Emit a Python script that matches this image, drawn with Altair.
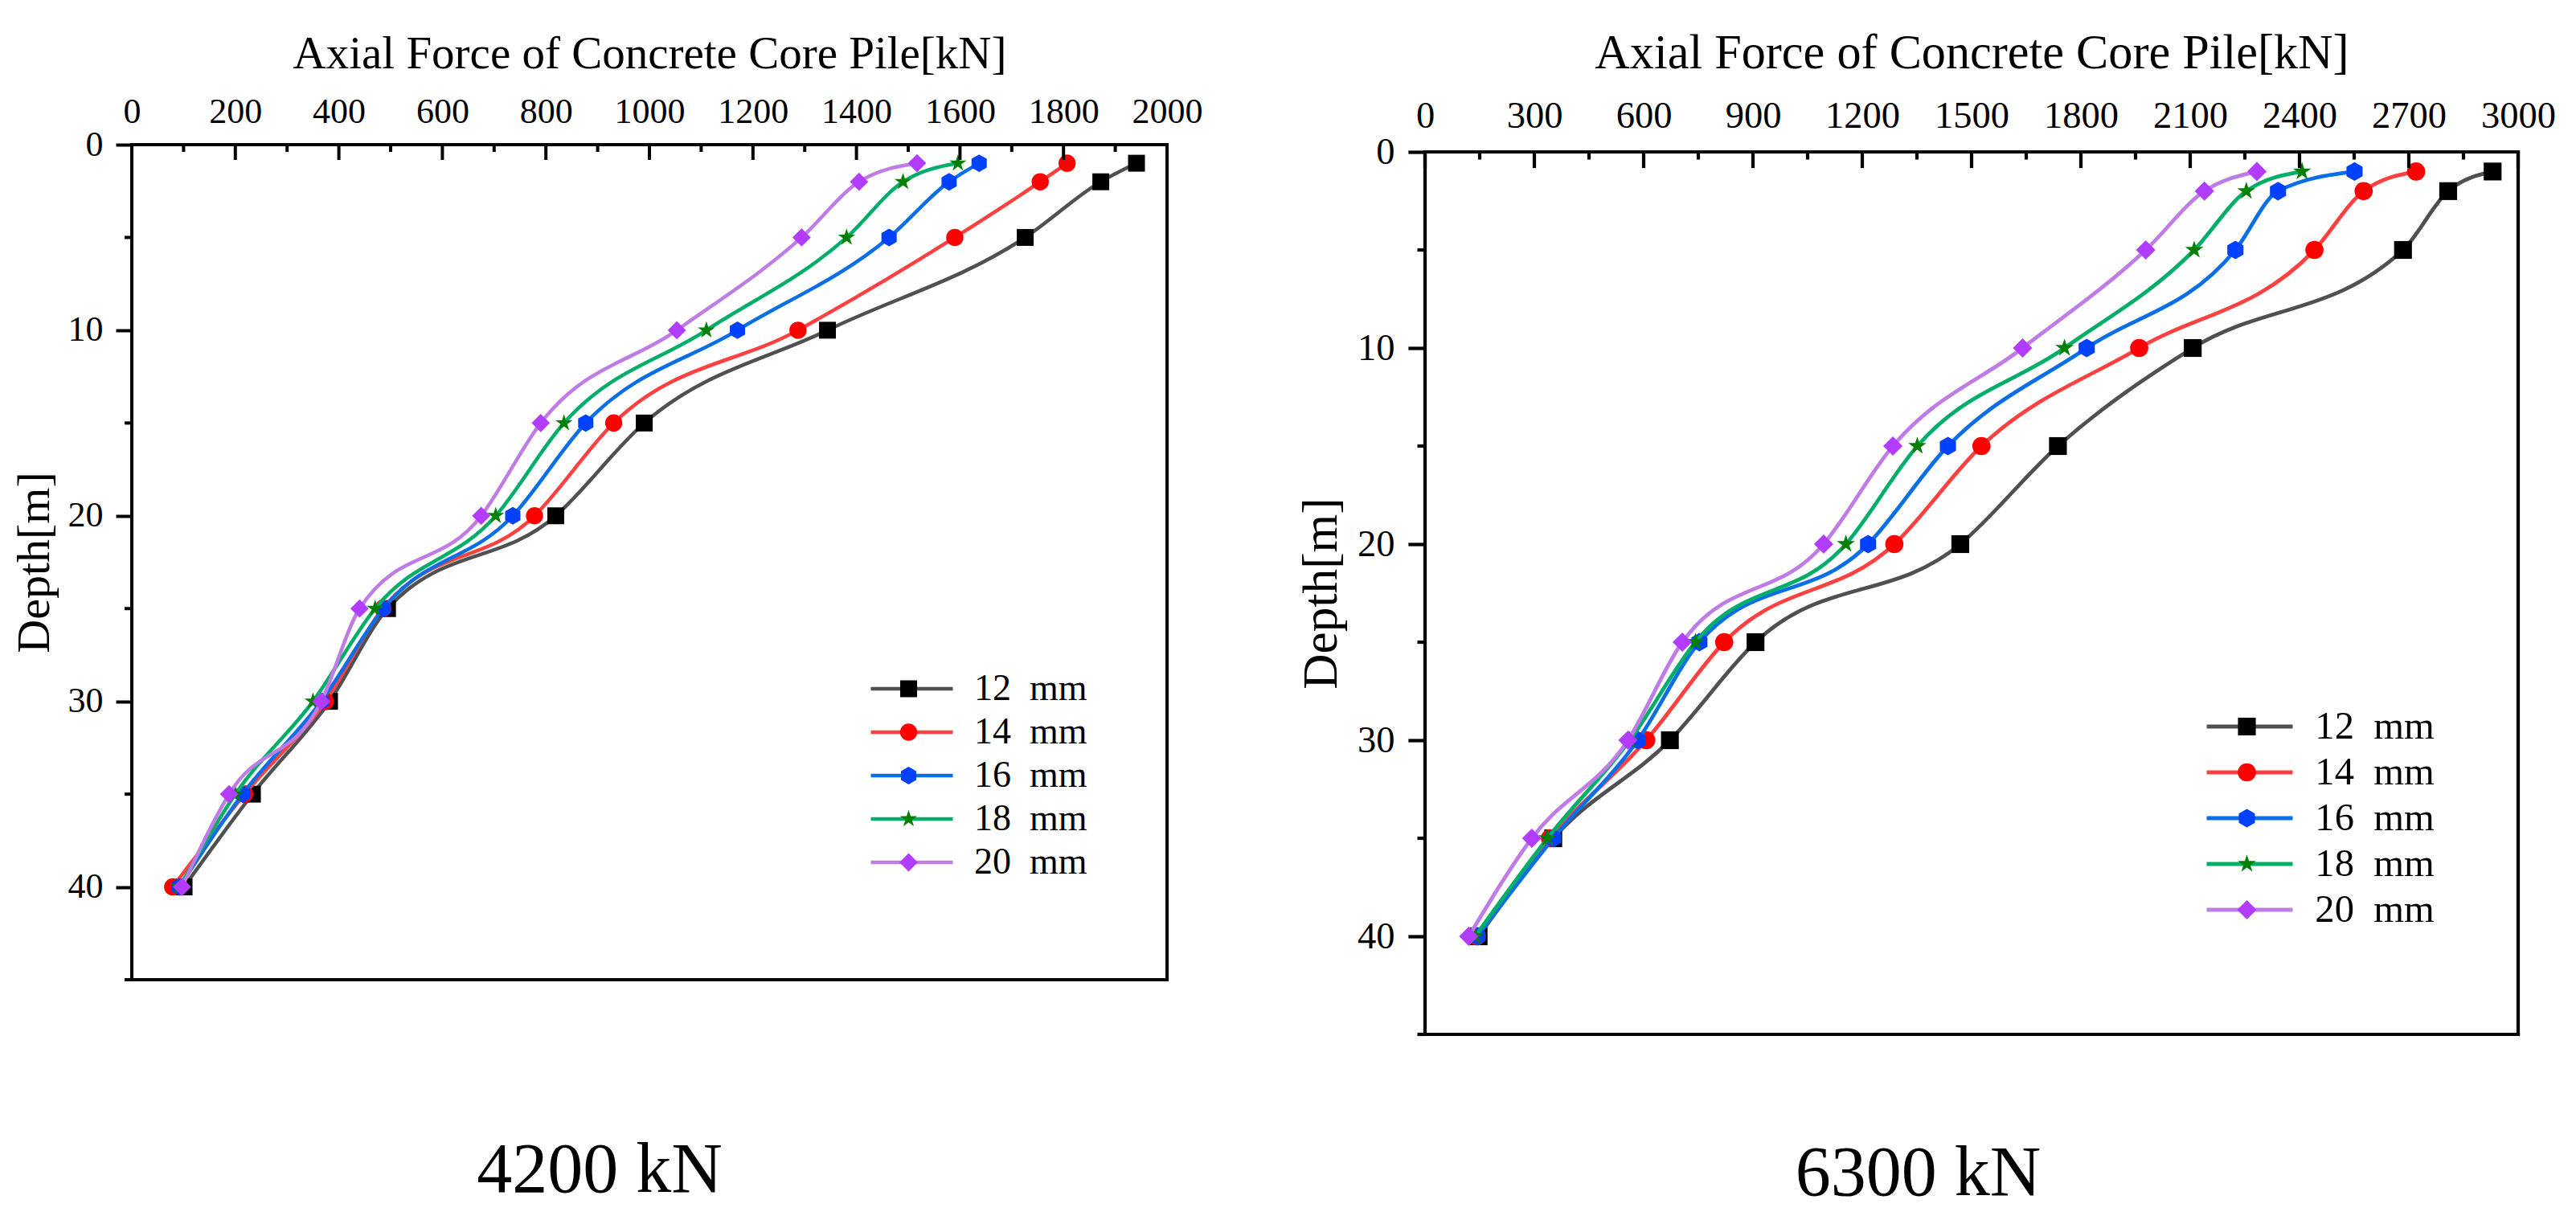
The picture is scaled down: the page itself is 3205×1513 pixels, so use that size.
import altair as alt
import pandas as pd

FONT = "Liberation Serif"

depths = [1, 2, 5, 10, 15, 20, 25, 30, 35, 40]
series_names = ["12\u00a0\u00a0mm", "14\u00a0\u00a0mm", "16\u00a0\u00a0mm", "18\u00a0\u00a0mm", "20\u00a0\u00a0mm"]
marker_keys = ["12", "14", "16", "18", "20"]

# 4200 kN panel
f4200_12 = [1941, 1872, 1726, 1344, 990, 819, 494, 382, 233, 101]
f4200_14 = [1807, 1755, 1590, 1287, 931, 778, 485, 374, 218, 79]
f4200_16 = [1637, 1579, 1463, 1170, 877, 736, 486, 366, 214, 92]
f4200_18 = [1596, 1490, 1381, 1110, 835, 703, 470, 350, 200, 92]
f4200_20 = [1517, 1405, 1294, 1053, 790, 675, 440, 366, 188, 97]

# 6300 kN panel
f6300_12 = [2930, 2808, 2684, 2107, 1737, 1469, 907, 672, 352, 147]
f6300_14 = [2720, 2576, 2441, 1960, 1527, 1288, 821, 607, 343, 142]
f6300_16 = [2551, 2341, 2224, 1816, 1435, 1216, 753, 584, 352, 144]
f6300_18 = [2407, 2254, 2111, 1755, 1351, 1155, 742, 562, 336, 138]
f6300_20 = [2283, 2139, 1978, 1640, 1284, 1094, 706, 557, 293, 120]

xdom_4200 = [0, 2000]
xdom_6300 = [0, 3000]
ydom = [0, 45]
xticks_4200 = [0, 200, 400, 600, 800, 1000, 1200, 1400, 1600, 1800, 2000]
xminor_4200 = [100, 300, 500, 700, 900, 1100, 1300, 1500, 1700, 1900]
xticks_6300 = [0, 300, 600, 900, 1200, 1500, 1800, 2100, 2400, 2700, 3000]
xminor_6300 = [150, 450, 750, 1050, 1350, 1650, 1950, 2250, 2550, 2850]
yticks = [0, 10, 20, 30, 40]
yminor = [5, 15, 25, 35, 45]

line_colors = ["#505050", "#FF4040", "#0A6FE6", "#00AE6A", "#C07CE6"]
marker_colors = ["#000000", "#FF0000", "#0040FF", "#008000", "#B23CFF"]
HEX = "M0,-1L0.866,-0.5L0.866,0.5L0,1L-0.866,0.5L-0.866,-0.5Z"
STAR = ("M0,-1L0.2245,-0.309L0.951,-0.309L0.363,0.118L0.588,0.809L0,0.382"
        "L-0.588,0.809L-0.363,0.118L-0.951,-0.309L-0.2245,-0.309Z")
DIAM = "M0,-1L1,0L0,1L-1,0Z"
shapes = ["square", "circle", HEX, STAR, DIAM]
base_sizes = [440, 520, 700, 760, 830]


def panel(forces, xdom, xticks, xminor, width, plot_h, top_off, k, title, title_offset,
          title_dx, x_title_pad, lx, ly, px, row_h, line_len):
    rows = []
    for name, key, vals in zip(series_names, marker_keys, forces):
        for d, f in zip(depths, vals):
            rows.append({"depth": d, "force": f, "series": name, "mk": key})
    df = pd.DataFrame(rows)

    xs = alt.Scale(domain=xdom, nice=False, zero=False)
    ys = alt.Scale(domain=ydom, range=[top_off, top_off + plot_h], nice=False, zero=False)

    x_axis = alt.Axis(orient="top", values=xticks, title="Axial Force of Concrete Core Pile[kN]",
                      domain=False, ticks=False, grid=False, format="d", offset=-top_off,
                      labelFont=FONT, labelFontSize=44 * k, labelColor="black",
                      labelPadding=19 * k, labelFlush=False, labelOverlap=False,
                      titleFont=FONT, titleFontSize=57 * k, titleFontWeight="normal",
                      titleColor="black", titlePadding=x_title_pad)
    y_axis = alt.Axis(orient="left", values=yticks, title="Depth[m]",
                      domain=False, ticks=True, tickSize=20 * k, tickWidth=4 * k,
                      tickColor="black", grid=False, format="d",
                      labelFont=FONT, labelFontSize=44 * k, labelColor="black",
                      labelPadding=16 * k, labelFlush=False, labelOverlap=False,
                      titleFont=FONT, titleFontSize=58 * k, titleFontWeight="normal",
                      titleColor="black", titlePadding=12 * k)

    stroke_legend = alt.Legend(title=None, orient="none", legendX=lx, legendY=ly,
                               symbolType="stroke", symbolSize=line_len ** 2,
                               symbolStrokeWidth=4.5 * k, clipHeight=row_h, rowPadding=0,
                               padding=0, labelFont=FONT, labelFontSize=46 * k,
                               labelColor="black", labelOffset=24 * k, labelLimit=500)
    pt_legend = alt.Legend(title=None, orient="none", legendX=px, legendY=ly,
                           clipHeight=row_h, rowPadding=0, padding=0,
                           labelExpr="''", labelFontSize=1, symbolStrokeWidth=0,
                           symbolOpacity=1)

    sizes = [s * k * k for s in base_sizes]
    base = alt.Chart(df)
    layers = []
    for key in marker_keys:
        sub = base.transform_filter(alt.datum.mk == key)
        line = sub.mark_line(interpolate="monotone", strokeWidth=4.5 * k).encode(
            x=alt.X("force:Q", scale=xs, axis=x_axis),
            y=alt.Y("depth:Q", scale=ys, axis=y_axis),
            stroke=alt.Stroke("series:N", scale=alt.Scale(domain=series_names, range=line_colors),
                              legend=stroke_legend),
            order=alt.Order("depth:Q"),
        )
        pts = sub.mark_point(filled=True, opacity=1, strokeWidth=0).encode(
            x=alt.X("force:Q", scale=xs, axis=x_axis),
            y=alt.Y("depth:Q", scale=ys, axis=y_axis),
            fill=alt.Fill("mk:N", scale=alt.Scale(domain=marker_keys, range=marker_colors),
                          legend=pt_legend),
            shape=alt.Shape("mk:N", scale=alt.Scale(domain=marker_keys, range=shapes),
                            legend=pt_legend),
            size=alt.Size("mk:N", scale=alt.Scale(domain=marker_keys, range=sizes),
                          legend=pt_legend),
        )
        layers += [line, pts]

    sw = 4 * k
    xt_major = alt.Chart(pd.DataFrame({"force": xticks})).mark_rule(
        color="black", strokeWidth=sw).encode(
        x=alt.X("force:Q", scale=xs, axis=x_axis), y=alt.value(top_off),
        y2=alt.value(top_off + 19 * k))
    xt_minor = alt.Chart(pd.DataFrame({"force": xminor})).mark_rule(
        color="black", strokeWidth=sw).encode(
        x=alt.X("force:Q", scale=xs, axis=x_axis), y=alt.value(top_off),
        y2=alt.value(top_off + 9 * k))
    yt_minor = alt.Chart(pd.DataFrame({"depth": yminor})).mark_rule(
        color="black", strokeWidth=sw).encode(
        y=alt.Y("depth:Q", scale=ys, axis=y_axis), x=alt.value(-9 * k), x2=alt.value(0))

    fr = pd.DataFrame({"x0": [xdom[0]], "x1": [xdom[1]], "y0": [ydom[0]], "y1": [ydom[1]]})
    frame = alt.Chart(fr)
    fkw = dict(color="black", strokeWidth=sw, strokeCap="square")
    f_top = frame.mark_rule(**fkw).encode(
        x=alt.X("x0:Q", scale=xs, axis=x_axis), x2="x1:Q",
        y=alt.Y("y0:Q", scale=ys, axis=y_axis))
    f_bot = frame.mark_rule(**fkw).encode(
        x=alt.X("x0:Q", scale=xs, axis=x_axis), x2="x1:Q",
        y=alt.Y("y1:Q", scale=ys, axis=y_axis))
    f_left = frame.mark_rule(**fkw).encode(
        x=alt.X("x0:Q", scale=xs, axis=x_axis),
        y=alt.Y("y0:Q", scale=ys, axis=y_axis), y2="y1:Q")
    f_right = frame.mark_rule(**fkw).encode(
        x=alt.X("x1:Q", scale=xs, axis=x_axis),
        y=alt.Y("y0:Q", scale=ys, axis=y_axis), y2="y1:Q")

    return alt.layer(*layers, xt_major, xt_minor, yt_minor,
                     f_top, f_bot, f_left, f_right).properties(
        width=width, height=top_off + plot_h,
        title=alt.TitleParams(text=title, orient="bottom", anchor="middle", frame="bounds",
                              font=FONT, fontSize=88, fontWeight="normal", color="black",
                              baseline="alphabetic", offset=title_offset, dx=title_dx),
    )


k2 = 1.057
left = panel([f4200_12, f4200_14, f4200_16, f4200_18, f4200_20], xdom_4200,
             xticks_4200, xminor_4200, 1288, 1039, 0, 1.0, "4200 kN", 261, -9, 21,
             917, 650, 955, 54, 102)
right = panel([f6300_12, f6300_14, f6300_16, f6300_18, f6300_20], xdom_6300,
              xticks_6300, xminor_6300, 1360, 1098, 9, k2, "6300 kN", 197, -10, 24,
              970, 695.5, 1010, 57, 107)

chart = alt.hconcat(left, right, spacing=117).resolve_scale(
    stroke="independent", fill="independent", shape="independent", size="independent"
).properties(
    padding={"left": 6, "top": 28, "right": 5, "bottom": 0},
    background="white",
).configure_view(stroke="transparent", strokeWidth=0)

chart.save("out.html", embed_options={"renderer": "svg", "actions": False})
